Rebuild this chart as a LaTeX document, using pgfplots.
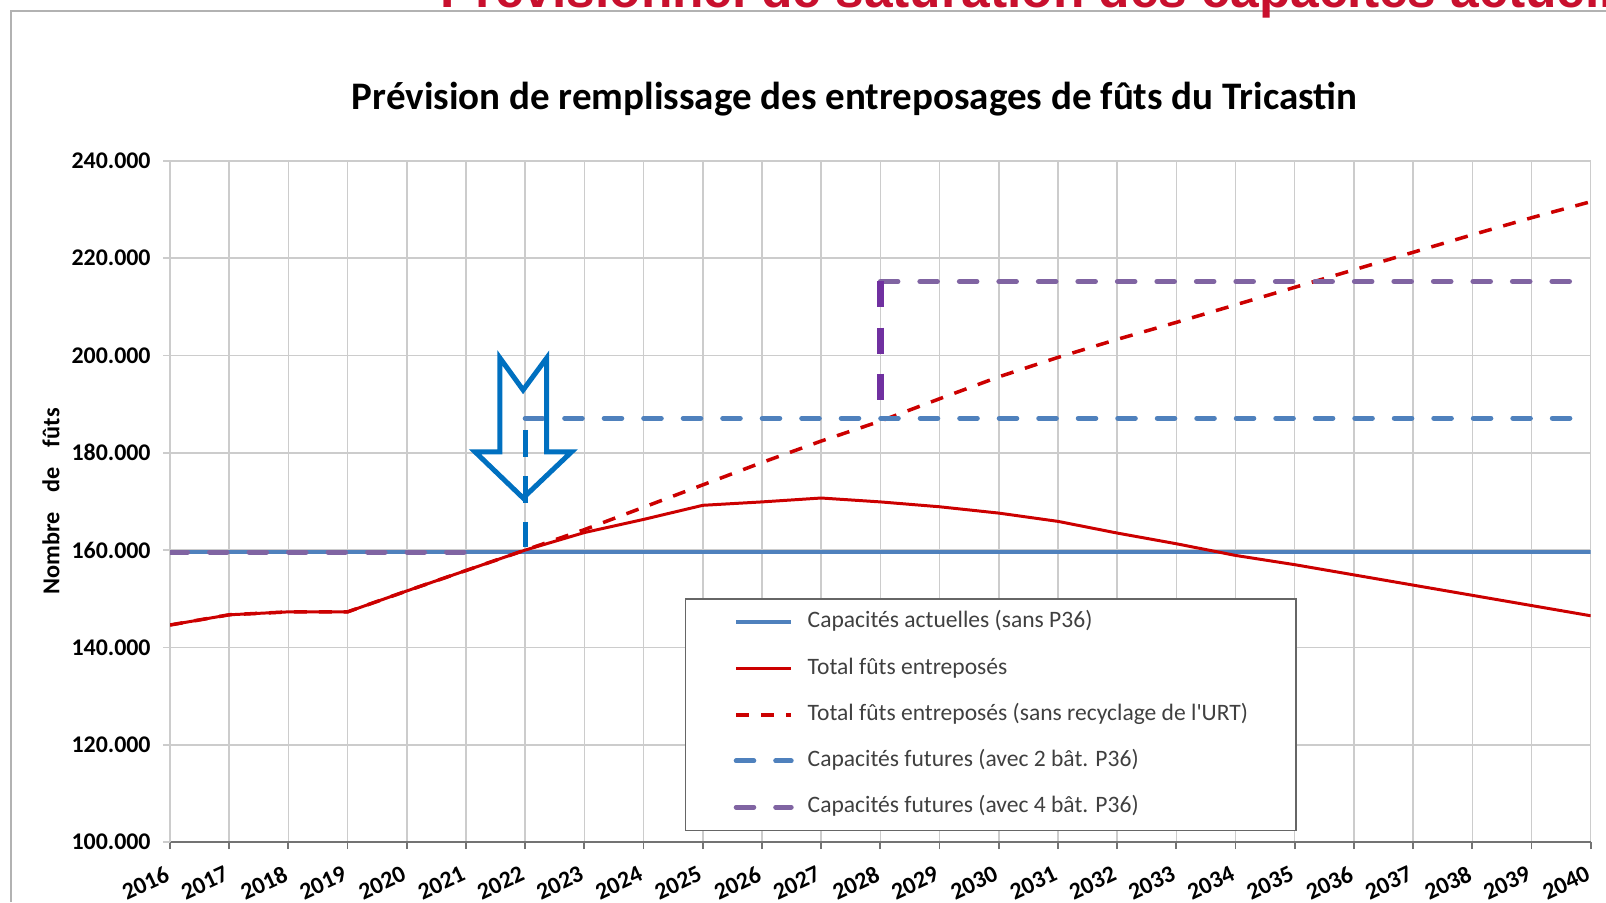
\documentclass[border=0pt]{standalone}
\usepackage{fontspec}
\setmainfont{Carlito}
\newfontfamily\redfont{Liberation Sans}
\usepackage{pgfplots}
\usepackage{pgfplotstable}
\pgfplotsset{compat=1.18}
\definecolor{capblue}{HTML}{4F81BD}
\definecolor{totred}{HTML}{CC0000}
\definecolor{capviolet}{HTML}{8064A2}
\definecolor{arrowblue}{HTML}{0070C0}
\definecolor{vertviolet}{HTML}{7030A0}
\definecolor{slidered}{HTML}{C8102E}
\definecolor{legtext}{HTML}{404040}
\definecolor{gridgray}{HTML}{CCCCCC}

\pgfplotstableread{
year total sansurt
2016 144600 144600
2017 146700 146700
2018 147300 147300
2019 147300 147300
2020 151600 151600
2021 155800 155800
2022 160000 160000
2023 163600 164200
2024 166300 168800
2025 169200 173400
2026 169900 178000
2027 170700 182400
2028 169900 186500
2029 168900 191100
2030 167600 195600
2031 165900 199600
2032 163500 203300
2033 161300 206800
2034 158900 210400
2035 157000 214000
2036 154900 217600
2037 152800 221200
2038 150700 224800
2039 148600 228300
2040 146500 231600
}\futs

\pgfplotstableread{
year actuelles deuxbat quatrebat
2016 159600 nan 159600
2017 159600 nan 159600
2018 159600 nan 159600
2019 159600 nan 159600
2020 159600 nan 159600
2021 159600 nan 159600
2022 159600 187100 nan
2023 159600 187100 nan
2024 159600 187100 nan
2025 159600 187100 nan
2026 159600 187100 nan
2027 159600 187100 nan
2028 159600 187100 215200
2029 159600 187100 215200
2030 159600 187100 215200
2031 159600 187100 215200
2032 159600 187100 215200
2033 159600 187100 215200
2034 159600 187100 215200
2035 159600 187100 215200
2036 159600 187100 215200
2037 159600 187100 215200
2038 159600 187100 215200
2039 159600 187100 215200
2040 159600 187100 215200
}\capa

\begin{document}
\begin{tikzpicture}
\useasboundingbox (0,0) rectangle (16.06,9.02);
\clip (0,0) rectangle (16.06,9.02);
\draw[black!30, line width=0.4pt] (0.11,0) -- (0.11,8.91) -- (16.06,8.91);
\node[anchor=base west, inner sep=0pt, text=slidered, font=\redfont\bfseries\fontsize{14.65}{16}\selectfont] at (4.40,8.945) {Prévisionnel de saturation des capacités actuelles};
\begin{axis}[
  at={(1.70cm,0.60cm)}, anchor=south west, scale only axis,
  width=14.207cm, height=6.812cm,
  xmin=2016, xmax=2040, ymin=100000, ymax=240000,
  xtick distance=1, ytick distance=20000,
  scaled y ticks=false, no markers,
  grid=major, major grid style={gridgray, line width=0.45pt},
  axis x line*=bottom, axis y line*=left,
  x axis line style={color=black!55, line width=0.6pt},
  y axis line style={color=gridgray, line width=0.45pt},
  tick align=outside, major tick length=0.07cm,
  xtick style={color=black!55, line width=0.5pt},
  ytick style={color=gridgray, line width=0.5pt},
  /pgf/number format/assume math mode=true,
  tick label style={font=\fontsize{6.8}{8}\selectfont\bfseries},
  xticklabel style={rotate=25, anchor=north east, /pgf/number format/1000 sep={}},
  yticklabel style={/pgf/number format/.cd, fixed, precision=0, 1000 sep={.}},
  title={Prévision de remplissage des entreposages de fûts du Tricastin},
  title style={font=\fontsize{11.1}{13}\selectfont\bfseries, at={(axis description cs:0.482,1.044)}, anchor=base},
  ylabel={Nombre\hspace{0.2cm}de\hspace{0.2cm}fûts},
  ylabel style={font=\fontsize{6.9}{8}\selectfont\bfseries, at={(axis description cs:-0.0779,0.5)}, anchor=base},
  legend cell align=left,
  legend image code/.code={\draw[#1] (0cm,0cm) -- (0.55cm,0cm);},
  legend style={at={(axis description cs:0.3625,0.358)}, anchor=north west,
    draw=black!60, line width=0.4pt, fill=white,
    font=\fontsize{6.7}{8}\selectfont, text=legtext,
    inner xsep=0.48cm, inner ysep=0.12cm, row sep=0.232cm,
    nodes={inner sep=0pt, text height=0.17cm, text depth=0.06cm, text=legtext},
    /tikz/every odd column/.append style={column sep=0.14cm}},
]
\addplot[capblue, line width=1.14pt] table[x=year,y=actuelles]{\capa};
\addlegendentry{Capacités actuelles (sans P36)}
\addplot[totred, line width=0.85pt] table[x=year,y=total]{\futs};
\addlegendentry{Total fûts entreposés}
\addplot[totred, line width=1pt, dash pattern=on 3.7pt off 3.4pt] table[x=year,y=sansurt]{\futs};
\addlegendentry{Total fûts entreposés (sans recyclage de l\textquotesingle URT)}
\addplot[capblue, line width=1.42pt, line cap=round, dash pattern=on 5.0pt off 6.24pt, unbounded coords=jump] table[x=year,y=deuxbat]{\capa};
\addlegendentry{Capacités futures (avec 2 bât. P36)}
\addplot[capviolet, line width=1.42pt, line cap=round, dash pattern=on 5.0pt off 6.24pt, unbounded coords=jump] table[x=year,y=quatrebat]{\capa};
\addlegendentry{Capacités futures (avec 4 bât. P36)}
\addplot[arrowblue, line width=1.42pt, dash pattern=on 7.7pt off 5.4pt, forget plot] coordinates {(2022,184700) (2022,160600)};
\addplot[vertviolet, line width=1.9pt, dash pattern=on 7.4pt off 5.7pt, forget plot] coordinates {(2028,215200) (2028,190500)};
\addplot[arrowblue, line width=1.42pt, line join=miter, forget plot] coordinates {(2021.574,199470) (2021.965,192900) (2022.363,199470) (2022.363,180200) (2022.785,180200) (2021.965,170700) (2021.152,180200) (2021.574,180200)} -- cycle;
\end{axis}
\end{tikzpicture}
\end{document}
